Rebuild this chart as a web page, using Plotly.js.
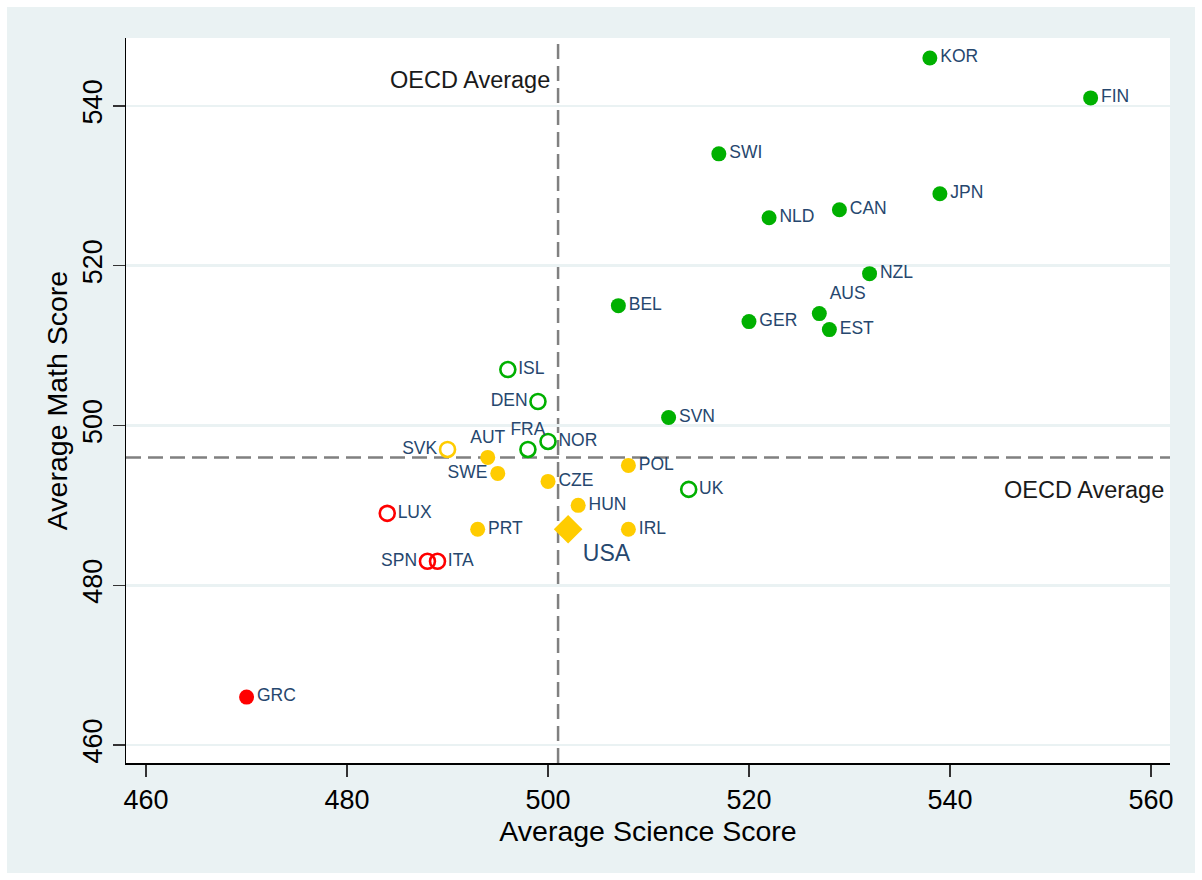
<!DOCTYPE html>
<html>
<head>
<meta charset="utf-8">
<script src="https://cdn.plot.ly/plotly-3.0.1.min.js"></script>
<style>
html,body{margin:0;padding:0;background:#ffffff;}
#wrap{position:absolute;left:7px;top:7px;width:1188px;height:866px;background:#EAF2F3;}
#chart{width:1188px;height:866px;}
</style>
</head>
<body>
<div id="wrap"><div id="chart"></div></div>
<script>
// ---- data ----
var countries = ['KOR','FIN','SWI','JPN','NLD','CAN','NZL','BEL','AUS','GER','EST','ISL','DEN','SVN','NOR','FRA','SVK','AUT','SWE','POL','CZE','UK','HUN','LUX','PRT','IRL','USA','SPN','ITA','GRC'];
var science   = [538,554,517,539,522,529,532,507,527,520,528,496,499,512,500,498,490,494,495,508,500,514,503,484,493,508,502,488,489,470];
var math      = [546,541,534,529,526,527,519,515,514,513,512,507,503,501,498,497,497,496,494,495,493,492,490,489,487,487,487,483,483,466];
// marker style group: gf=green filled, go=green open, yf=gold filled, yo=gold open, ro=red open, rf=red filled, us=USA diamond
var group     = ['gf','gf','gf','gf','gf','gf','gf','gf','gf','gf','gf','go','go','gf','go','go','yo','yf','yf','yf','yf','go','yf','ro','yf','yf','us','ro','ro','rf'];
var labelPos  = ['middle right','middle right','middle right','middle right','middle right','middle right','middle right','middle right','top right','middle right','middle right','middle right','middle left','middle right','middle right','top center','middle left','top center','middle left','middle right','middle right','middle right','middle right','middle right','middle right','middle right','bottom right','middle left','middle right','middle right'];
var oecdScience = 501;
var oecdMath = 496;

var styles = {
  gf: {symbol:'circle', color:'#00B000', open:false},
  go: {symbol:'circle-open', color:'#00B000', open:true},
  yf: {symbol:'circle', color:'#FFCC00', open:false},
  yo: {symbol:'circle-open', color:'#FFCC00', open:true},
  ro: {symbol:'circle-open', color:'#FF0000', open:true},
  rf: {symbol:'circle', color:'#FF0000', open:false},
  us: {symbol:'diamond', color:'#FFCC00', open:false}
};

var FONT = 'Arial, "Liberation Sans", Helvetica, sans-serif';
var LABEL = '#26476E';

var traces = [];
Object.keys(styles).forEach(function(g){
  var xs=[],ys=[],ts=[],ps=[],fs=[];
  for (var i=0;i<countries.length;i++){
    if (group[i]!==g) continue;
    xs.push(science[i]); ys.push(math[i]); ts.push(countries[i]); ps.push(labelPos[i]);
    fs.push(g==='us'?23:17.5);
  }
  var s = styles[g];
  traces.push({
    type:'scatter', mode:'markers+text', x:xs, y:ys, text:ts, textposition:ps,
    textfont:{family:FONT, size:fs, color:LABEL},
    marker:{symbol:s.symbol, size:(g==='us'?22:15), color:s.color,
            line:{color:s.color, width:(s.open?2.6:0)}},
    hoverinfo:'skip', showlegend:false, cliponaxis:false
  });
});

var layout = {
  width:1188, height:866,
  paper_bgcolor:'#EAF2F3', plot_bgcolor:'#ffffff',
  margin:{l:119, r:25, t:31, b:110},
  font:{family:FONT, color:'#000'},
  showlegend:false,
  xaxis:{
    range:[458.0,561.9], tickvals:[460,480,500,520,540,560],
    showgrid:false, zeroline:false, showline:true, linecolor:'#000', linewidth:1.5,
    ticks:'outside', ticklen:12, tickwidth:1.5, tickcolor:'#333',
    tickfont:{size:27, color:'#000'},
    title:{text:'Average Science Score', font:{size:28.5, color:'#000'}, standoff:0}
  },
  yaxis:{
    range:[457.75,548.5], tickvals:[460,480,500,520,540],
    showgrid:true, gridcolor:'#EAF2F3', gridwidth:2.5, zeroline:false,
    showline:true, linecolor:'#000', linewidth:1.5,
    ticks:'outside', ticklen:12, tickwidth:1.5, tickcolor:'#333',
    tickangle:-90, tickfont:{size:27, color:'#000'},
    title:{text:'Average Math Score', font:{size:28.5, color:'#000'}, standoff:1}
  },
  shapes:[
    {type:'line', xref:'x', yref:'paper', x0:oecdScience, x1:oecdScience, y0:0, y1:1,
     line:{color:'#808080', width:2.5, dash:'15px,7px'}, layer:'below'},
    {type:'line', xref:'paper', yref:'y', x0:0, x1:1, y0:oecdMath, y1:oecdMath,
     line:{color:'#808080', width:2.5, dash:'15px,7px'}, layer:'below'}
  ],
  annotations:[
    {text:'OECD Average', xref:'x', yref:'y', x:oecdScience, y:543.2, xanchor:'right', yanchor:'middle',
     xshift:-6, showarrow:false, font:{size:23.5, color:'#1a1a1a'}},
    {text:'OECD Average', xref:'paper', yref:'y', x:1, y:491.9, xanchor:'right', yanchor:'middle',
     xshift:-4, showarrow:false, font:{size:23.5, color:'#1a1a1a'}}
  ]
};

Plotly.newPlot('chart', traces, layout, {displayModeBar:false, staticPlot:true});
</script>
</body>
</html>
